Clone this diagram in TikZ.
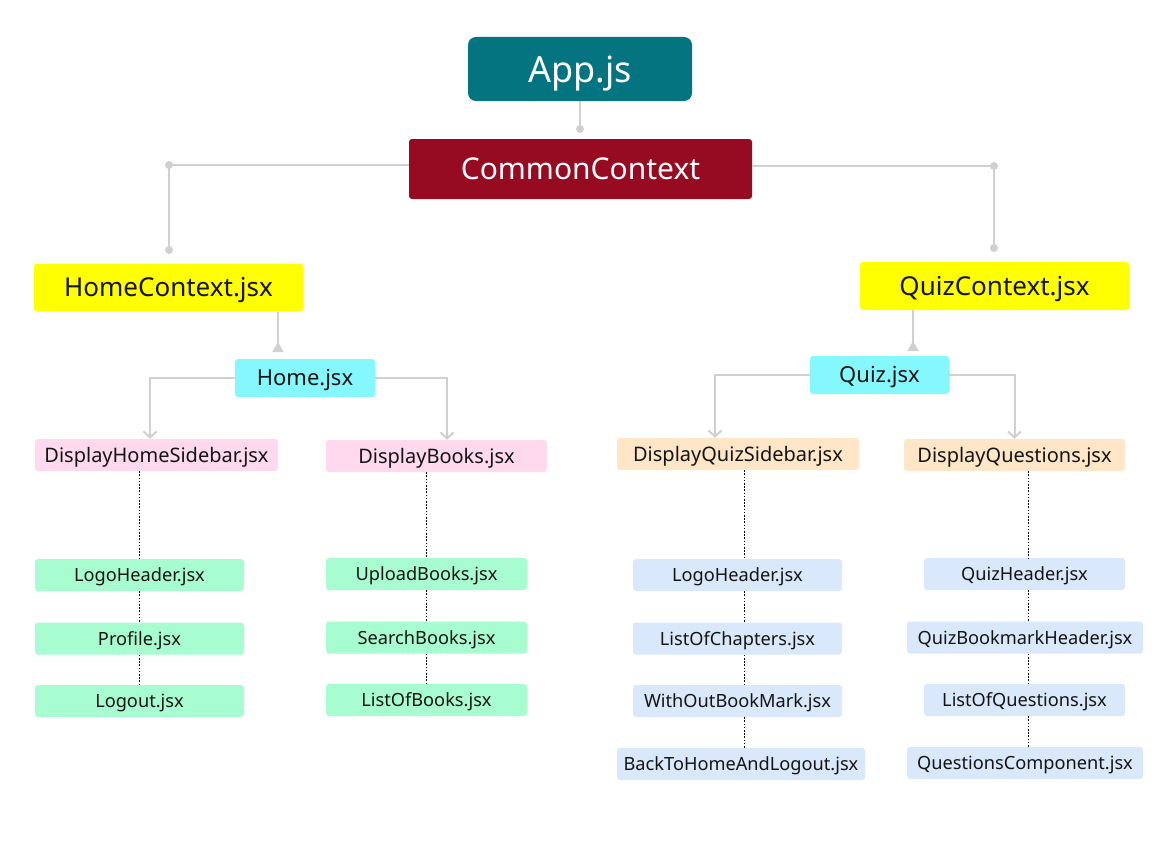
\documentclass[tikz,border=0pt]{standalone}
\usepackage{fontspec}
\setmainfont{Noto Sans}
\usetikzlibrary{arrows.meta,positioning}

\definecolor{appteal}{HTML}{037480}
\definecolor{ctxred}{HTML}{960A22}
\definecolor{ctxyellow}{HTML}{FFFF00}
\definecolor{pagecyan}{HTML}{84F8FC}
\definecolor{dispink}{HTML}{FFDAEE}
\definecolor{dispeach}{HTML}{FFE6C7}
\definecolor{compgreen}{HTML}{A7FDD0}
\definecolor{compblue}{HTML}{DAE8FC}
\definecolor{linegray}{HTML}{D0D0D0}

\tikzstyle{box} = [rectangle, rounded corners=3pt, inner sep=0pt, text=black!92, text depth=0pt]
\tikzstyle{appbox} = [box, fill=appteal, text=white, rounded corners=8pt, text height=26pt,
minimum width=224pt, minimum height=64pt, font=\fontsize{36}{40}\selectfont]
\tikzstyle{commonbox} = [box, fill=ctxred, text=white, text height=21.6pt,
minimum width=343pt, minimum height=60pt, font=\fontsize{30}{34}\selectfont]
\tikzstyle{context} = [box, fill=ctxyellow, minimum width=269pt, minimum height=48pt,
text height=18.7pt, font=\fontsize{26}{30}\selectfont]
\tikzstyle{page} = [box, fill=pagecyan, minimum width=140pt, minimum height=38pt,
text height=15.8pt, font=\fontsize{22}{25}\selectfont]
\tikzstyle{display} = [box, minimum height=32pt, text height=14.4pt, font=\fontsize{20}{23}\selectfont]
\tikzstyle{comp} = [box, minimum height=32pt, text height=13.1pt, font=\fontsize{18.2}{21}\selectfont]
\tikzstyle{conn} = [draw, linegray, line width=2pt]
\tikzstyle{dots} = [draw, black, line width=0.8pt, dash pattern=on 1.6pt off 1.6pt]

\begin{document}
\begin{tikzpicture}[x=1pt, y=-1pt]
	% Canvas
	\fill[white] (0,0) rectangle (1161,843);
	\useasboundingbox (0,0) rectangle (1161,843);

	% Place nodes
	\node [appbox] (app) at (580,69) {App.js};
	\node [commonbox] (common) at (580.5,169) {CommonContext};
	\node [context] (homectx) at (168.5,287.5) {HomeContext.jsx};
	\node [context] (quizctx) at (994.5,286) {QuizContext.jsx};
	\node [page] (home) at (305,378) {Home.jsx};
	\node [page, minimum width=139pt] (quiz) at (879.5,375) {Quiz.jsx};

	\node [display, fill=dispink, minimum width=243pt] (dhs) at (156.5,455) {DisplayHomeSidebar.jsx};
	\node [display, fill=dispink, minimum width=221pt] (dbooks) at (436.5,456) {DisplayBooks.jsx};
	\node [display, fill=dispeach, minimum width=242pt] (dqs) at (738,454) {DisplayQuizSidebar.jsx};
	\node [display, fill=dispeach, minimum width=221pt] (dq) at (1014.5,455) {DisplayQuestions.jsx};

	\node [comp, fill=compgreen, minimum width=209pt] (logo) at (139.5,575) {LogoHeader.jsx};
	\node [comp, fill=compgreen, minimum width=209pt] (profile) at (139.5,638.5) {Profile.jsx};
	\node [comp, fill=compgreen, minimum width=209pt] (logout) at (139.5,701) {Logout.jsx};

	\node [comp, fill=compgreen, minimum width=201pt] (upload) at (426.5,574) {UploadBooks.jsx};
	\node [comp, fill=compgreen, minimum width=201pt] (search) at (426.5,637.5) {SearchBooks.jsx};
	\node [comp, fill=compgreen, minimum width=201pt] (listbooks) at (426.5,700) {ListOfBooks.jsx};

	\node [comp, fill=compblue, minimum width=209pt] (qlogo) at (737.5,575) {LogoHeader.jsx};
	\node [comp, fill=compblue, minimum width=209pt] (chapters) at (737.5,638.5) {ListOfChapters.jsx};
	\node [comp, fill=compblue, minimum width=209pt] (nomark) at (737.5,701) {WithOutBookMark.jsx};
	\node [comp, fill=compblue, minimum width=248pt] (backhome) at (741,764) {BackToHomeAndLogout.jsx};

	\node [comp, fill=compblue, minimum width=201pt] (qheader) at (1024.5,574) {QuizHeader.jsx};
	\node [comp, fill=compblue, minimum width=236pt] (qmark) at (1025,637.5) {QuizBookmarkHeader.jsx};
	\node [comp, fill=compblue, minimum width=201pt] (qlist) at (1024.5,700) {ListOfQuestions.jsx};
	\node [comp, fill=compblue, minimum width=236pt] (qcomp) at (1025,763) {QuestionsComponent.jsx};

	% Connector points
	\coordinate (appdot) at (580,129);
	\coordinate (lcorner) at (169,165);
	\coordinate (ldot) at (169,250);
	\coordinate (rcorner) at (994,166);
	\coordinate (rdot) at (994,248);
	\coordinate (homeup) at (278,352);
	\coordinate (quizup) at (913,351);
	\coordinate (qsx) at (744,0);
	\coordinate (qqx) at (1028,0);

	\path [conn] (app.south) -- (appdot);
	\path [conn] (common.west |- lcorner) -- (lcorner) -- (ldot);
	\path [conn] (common.east |- rcorner) -- (rcorner) -- (rdot);
	\foreach \d in {appdot,lcorner,ldot,rcorner,rdot}
		\fill [linegray] (\d) circle (4pt);

	\path [conn, -{Triangle[reversed, length=10pt, width=11pt]}] (homectx.south -| homeup) -- (homeup);
	\path [conn, -{Triangle[reversed, length=10pt, width=11pt]}] (quizctx.south -| quizup) -- (quizup);

	\path [conn, -{Straight Barb[length=6pt, width=13pt]}] (home.west) -| ([xshift=-6.5pt]dhs.north);
	\path [conn, -{Straight Barb[length=6pt, width=13pt]}] (home.east) -| ([xshift=10.5pt]dbooks.north);
	\path [conn, -{Straight Barb[length=6pt, width=13pt]}] (quiz.west) -| ([xshift=-23pt]dqs.north);
	\path [conn, -{Straight Barb[length=6pt, width=13pt]}] (quiz.east) -| (dq.north);

	% Dotted child links
	\foreach \a/\b in {dhs/logo, logo/profile, profile/logout, dbooks/upload, upload/search, search/listbooks}
		\path [dots] (\a.south -| \b.north) -- (\b.north);
	\foreach \a/\b in {dqs/qlogo, qlogo/chapters, chapters/nomark, nomark/backhome}
		\path [dots] (qsx |- \a.south) -- (qsx |- \b.north);
	\foreach \a/\b in {dq/qheader, qheader/qmark, qmark/qlist, qlist/qcomp}
		\path [dots] (qqx |- \a.south) -- (qqx |- \b.north);
\end{tikzpicture}
\end{document}
